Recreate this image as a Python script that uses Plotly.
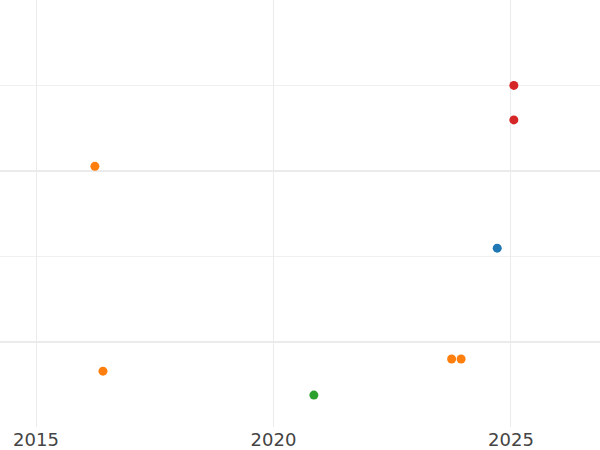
import plotly.graph_objects as go

series_names = ["blue", "orange", "green", "red"]
colors = ["#1f77b4", "#ff7f0e", "#2ca02c", "#d62728"]
blue_x = [2024.71]
blue_y = [1.547]
orange_x = [2016.24, 2016.41, 2023.75, 2023.95]
orange_y = [2.026, 0.827, 0.898, 0.898]
green_x = [2020.85]
green_y = [0.687]
red_x = [2025.06, 2025.06]
red_y = [2.50, 2.298]
x_ticks = [2015, 2020, 2025]
x_tick_labels = ["2015", "2020", "2025"]

fig = go.Figure()
for name, c, xs, ys in zip(series_names, colors,
                           [blue_x, orange_x, green_x, red_x],
                           [blue_y, orange_y, green_y, red_y]):
    fig.add_trace(go.Scatter(x=xs, y=ys, mode="markers", name=name,
                             marker=dict(color=c, size=9), showlegend=False))

fig.update_layout(
    width=600, height=450,
    margin=dict(l=0, r=0, t=0, b=23),
    plot_bgcolor="white", paper_bgcolor="white",
    font=dict(family="DejaVu Sans", size=18, color="#444"),
)
fig.update_xaxes(range=[2014.242, 2026.874], tickvals=x_ticks, ticktext=x_tick_labels,
                 showgrid=True, gridcolor="#ebebeb", gridwidth=1, zeroline=False,
                 showline=False, ticks="", automargin=False)
fig.update_yaxes(range=[0.5, 3.0], dtick=1, tick0=0, showticklabels=False,
                 showgrid=True, gridcolor="#ebebeb", gridwidth=2, zeroline=False,
                 minor=dict(dtick=0.5, showgrid=True, gridcolor="#f0f0f0", gridwidth=1),
                 showline=False, ticks="", automargin=False)

fig.write_html("out.html", config={"displayModeBar": False},
               post_script="document.body.style.margin='0';document.body.style.overflow='hidden';")
